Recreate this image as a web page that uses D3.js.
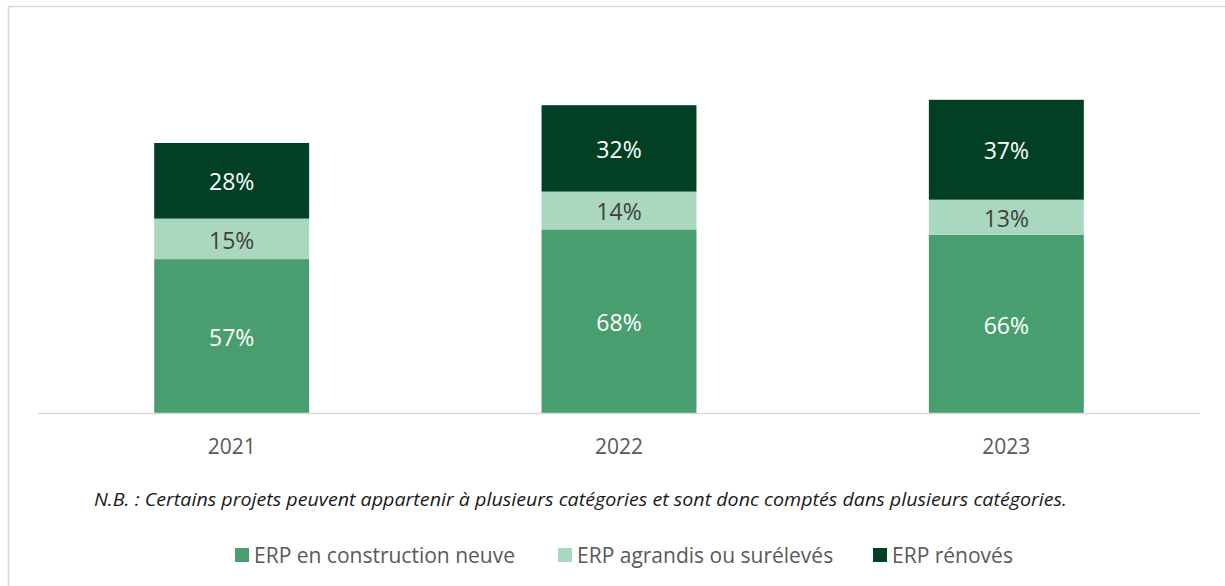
<!DOCTYPE html>
<html>
<head>
<meta charset="utf-8">
<script src="https://cdn.jsdelivr.net/npm/d3@7"></script>
<style>
  html, body { margin: 0; padding: 0; background: #fff; }
  svg { display: block; }
</style>
</head>
<body>
<svg id="chart" width="1225" height="586"></svg>
<script>
// Categories and series (shares in %, stacked per year)
const years = ["2021", "2022", "2023"];
const seriesNames = ["ERP en construction neuve", "ERP agrandis ou surélevés", "ERP rénovés"];
const construction = [57, 68, 66];
const agrandis = [15, 14, 13];
const renoves = [28, 32, 37];
const note = "N.B. : Certains projets peuvent appartenir à plusieurs catégories et sont donc comptés dans plusieurs catégories.";

const colors = ["#489e6e", "#aad8bf", "#014025"];
const labelColors = ["#ffffff", "#404040", "#ffffff"];
const font = "'Open Sans', 'Noto Sans', sans-serif";

const rows = years.map((y, i) => ({
  year: y,
  [seriesNames[0]]: construction[i],
  [seriesNames[1]]: agrandis[i],
  [seriesNames[2]]: renoves[i]
}));

const svg = d3.select("#chart");

// Outer frame
svg.append("rect")
  .attr("x", 8.5).attr("y", 6.5)
  .attr("width", 1240).attr("height", 600)
  .attr("fill", "none")
  .attr("stroke", "#d9d9d9")
  .attr("stroke-width", 1.5);

const plot = { left: 38, right: 1200, top: 35, bottom: 413 };

const x = d3.scaleBand()
  .domain(years)
  .range([plot.left, plot.right])
  .paddingInner(0.6)
  .paddingOuter(0.3);

const y = d3.scaleLinear()
  .domain([0, 140])
  .range([plot.bottom, plot.top]);

const stacked = d3.stack().keys(seriesNames)(rows);

const layers = svg.append("g").selectAll("g")
  .data(stacked)
  .join("g")
  .attr("fill", (d, i) => colors[i]);

layers.selectAll("rect")
  .data(d => d)
  .join("rect")
  .attr("x", d => x(d.data.year))
  .attr("width", x.bandwidth())
  .attr("y", d => y(d[1]))
  .attr("height", d => y(d[0]) - y(d[1]));

// Value labels centred in each segment
stacked.forEach((layer, i) => {
  svg.append("g").selectAll("text")
    .data(layer)
    .join("text")
    .attr("x", d => x(d.data.year) + x.bandwidth() / 2)
    .attr("y", d => (y(d[0]) + y(d[1])) / 2)
    .attr("dy", "0.42em")
    .attr("text-anchor", "middle")
    .attr("font-family", font)
    .attr("font-size", 23)
    .attr("fill", labelColors[i])
    .text(d => (d[1] - d[0]) + "%");
});

// Category axis
const xAxis = svg.append("g")
  .attr("transform", `translate(0,${plot.bottom + 0.5})`)
  .call(d3.axisBottom(x).tickSize(0).tickPadding(26));
xAxis.select(".domain")
  .attr("d", `M${plot.left},0H${plot.right}`)
  .attr("stroke", "#d9d9d9")
  .attr("stroke-width", 1.5);
xAxis.selectAll("text")
  .attr("font-family", font)
  .attr("font-size", 21)
  .attr("fill", "#595959");

// Footnote
svg.append("text")
  .attr("x", 94)
  .attr("y", 506)
  .attr("font-family", font)
  .attr("font-style", "italic")
  .attr("font-size", 18.5)
  .attr("fill", "#1a1a1a")
  .attr("textLength", 973)
  .attr("lengthAdjust", "spacingAndGlyphs")
  .text(note);

// Legend
const legendX = [235, 558, 873];
const legend = svg.append("g").selectAll("g")
  .data(seriesNames)
  .join("g")
  .attr("transform", (d, i) => `translate(${legendX[i]},548)`);
legend.append("rect")
  .attr("width", 14).attr("height", 14)
  .attr("fill", (d, i) => colors[i]);
legend.append("text")
  .attr("x", 19)
  .attr("y", 7)
  .attr("dy", "0.36em")
  .attr("font-family", font)
  .attr("font-size", 21)
  .attr("fill", "#595959")
  .text(d => d);
</script>
</body>
</html>
